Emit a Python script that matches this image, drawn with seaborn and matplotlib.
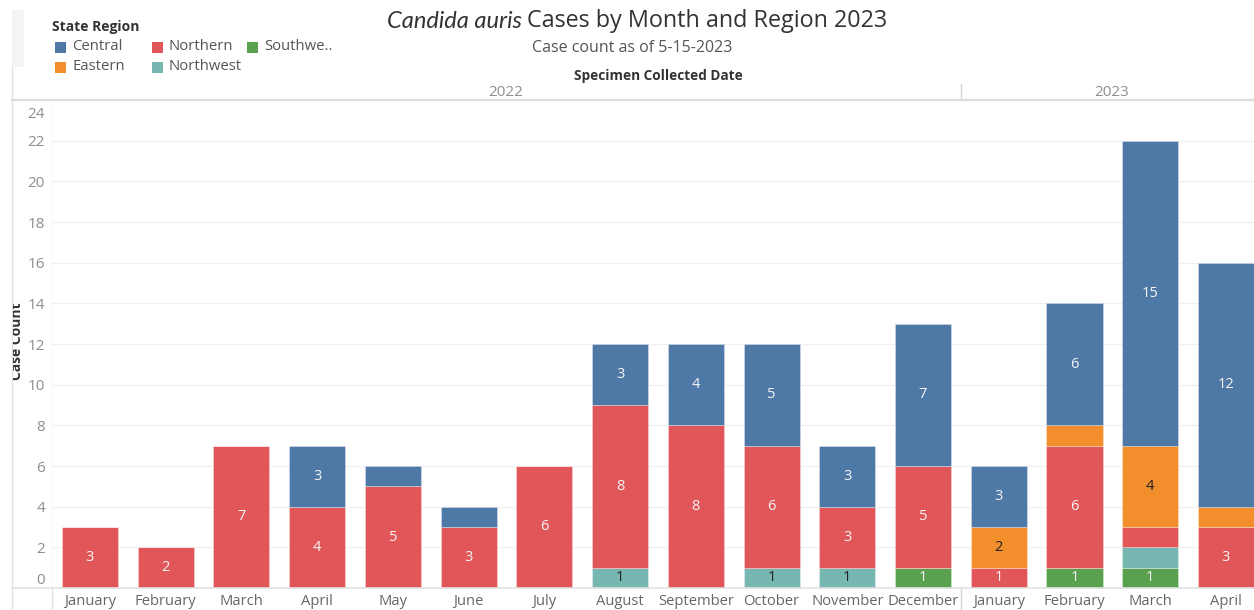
import matplotlib
matplotlib.use("Agg")
from matplotlib import pyplot as plt
from matplotlib.lines import Line2D
from matplotlib.patches import Rectangle
from matplotlib.transforms import Bbox, TransformedBbox, ScaledTranslation
import pandas as pd
import seaborn as sns

# data
months = ["January", "February", "March", "April", "May", "June", "July",
          "August", "September", "October", "November", "December",
          "January", "February", "March", "April"]
years = ["2022", "2023"]
regions = ["Central", "Eastern", "Northern", "Northwest", "Southwest"]
central = [0, 0, 0, 3, 1, 1, 0, 3, 4, 5, 3, 7, 3, 6, 15, 12]
eastern = [0, 0, 0, 0, 0, 0, 0, 0, 0, 0, 0, 0, 2, 1, 4, 1]
northern = [3, 2, 7, 4, 5, 3, 6, 8, 8, 6, 3, 5, 1, 6, 1, 3]
northwest = [0, 0, 0, 0, 0, 0, 0, 1, 0, 1, 1, 0, 0, 0, 1, 0]
southwest = [0, 0, 0, 0, 0, 0, 0, 0, 0, 0, 0, 1, 0, 1, 1, 0]

colors = {"Central": "#4E79A7", "Eastern": "#F28E2B", "Northern": "#E15759",
          "Northwest": "#76B7B2", "Southwest": "#59A14F"}
label_colors = {"Central": "#f4f4f4", "Eastern": "#222222", "Northern": "#f4f4f4",
                "Northwest": "#222222", "Southwest": "#f4f4f4"}

W, H = 1254, 610


def fx(x):
    return x / W


def fy(y):
    return 1 - y / H


counts = dict(zip(regions, [central, eastern, northern, northwest, southwest]))
rows = []
for r in regions:
    for i, v in enumerate(counts[r]):
        if v:
            rows.append({"idx": i, "region": r, "cases": v})
df = pd.DataFrame(rows)

sns.set_theme(style="white")
plt.rcParams["font.family"] = ["Open Sans", "DejaVu Sans"]

fig = plt.figure(figsize=(W / 100, H / 100), dpi=100)
ax = fig.add_axes([fx(52), fy(588), fx(1254) - fx(52), (588 - 100) / H])

# seaborn stacks the last hue level at the bottom
sns.histplot(data=df, x="idx", hue="region", weights="cases",
             hue_order=regions, palette=colors, multiple="stack",
             discrete=True, shrink=0.74, alpha=1, linewidth=0.6,
             edgecolor=(1, 1, 1, 0.35), legend=False, ax=ax)

ax.set_xlim(-0.5, 15.37)
ax.set_ylim(0, 24)
ax.set_xticks(range(len(months)), months)
ax.set_yticks(range(0, 25, 2))
ax.set_xlabel("")
ax.set_ylabel("")
ax.grid(axis="y", color="#f0f0f0", lw=1)
ax.set_axisbelow(True)
for s in ax.spines.values():
    s.set_visible(False)
ax.tick_params(axis="x", length=0, pad=4, labelsize=10.6, labelcolor="#666666")
ax.tick_params(axis="y", length=0, pad=5, labelsize=11, labelcolor="#8e8e8e")

# Tableau pushes the end labels inside the pane
ylabels = ax.get_yticklabels()
ylabels[0].set_transform(ylabels[0].get_transform() + ScaledTranslation(0, 9 / 100, fig.dpi_scale_trans))
ylabels[-1].set_transform(ylabels[-1].get_transform() + ScaledTranslation(0, -12 / 100, fig.dpi_scale_trans))

# segment labels
stack_order = regions[::-1]
for i in range(len(months)):
    bottom = 0
    for r in stack_order:
        v = counts[r][i]
        if v == 0:
            continue
        if v >= 2 or bottom == 0:
            ax.text(i, bottom + v / 2, str(v), ha="center", va="center",
                    fontsize=10.5, color=label_colors[r])
        bottom += v

# frame lines
line_kw = dict(transform=fig.transFigure, lw=1, zorder=0)
fig.add_artist(Line2D([fx(12), fx(1254)], [fy(100), fy(100)], color="#dcdcdc", lw=1.5, transform=fig.transFigure))
fig.add_artist(Line2D([fx(12), fx(1254)], [fy(588), fy(588)], color="#e2e2e2", lw=1.2, transform=fig.transFigure))
fig.add_artist(Line2D([fx(12), fx(12)], [fy(66), fy(610)], color="#e2e2e2", **line_kw))
fig.add_artist(Line2D([fx(52), fx(52)], [fy(100), fy(610)], color="#e2e2e2", **line_kw))
fig.add_artist(Line2D([fx(961), fx(961)], [fy(84), fy(610)], color="#d4d4d4", **line_kw))

# headers
fig.text(fx(522), fy(21), "Candida auris", ha="right", va="center", fontsize=17,
         style="italic", color="#333333", family=["Lato", "DejaVu Sans"])
fig.text(fx(527), fy(21), "Cases by Month and Region 2023", ha="left", va="center",
         fontsize=16.8, color="#333333")
fig.text(fx(632), fy(48), "Case count as of 5-15-2023", ha="center", va="center",
         fontsize=11.5, color="#555555")
fig.text(fx(658), fy(76), "Specimen Collected Date", ha="center", va="center",
         fontsize=9.8, fontweight="bold", color="#333333")
fig.text(fx(506), fy(92), years[0], ha="center", va="center", fontsize=11, color="#8e8e8e")
fig.text(fx(1112), fy(92), years[1], ha="center", va="center", fontsize=11, color="#8e8e8e")

# axis title sits half outside the pane in the reference
yt = fig.text(fx(17.5), fy(341), "Case Count", rotation=90, ha="center", va="center",
              fontsize=10, color="#333333", fontweight="bold")
yt.set_clip_box(TransformedBbox(Bbox([[fx(12.5), 0], [1, 1]]), fig.transFigure))
yt.set_clip_on(True)

# legend
fig.add_artist(Rectangle((fx(12), fy(67)), fx(12), (67 - 10) / H, transform=fig.transFigure,
                         color="#f4f4f4", lw=0))
fig.text(fx(52), fy(27), "State Region", ha="left", va="center", fontsize=10,
         fontweight="bold", color="#333333")
legend_items = [("Central", 55, 47), ("Northern", 152, 47), ("Southwe..", 247, 47),
                ("Eastern", 55, 67), ("Northwest", 152, 67)]
for (name, x, y), r in zip(legend_items, ["Central", "Northern", "Southwest", "Eastern", "Northwest"]):
    fig.add_artist(Rectangle((fx(x), fy(y + 5.5)), fx(11), 11 / H, transform=fig.transFigure,
                             color=colors[r], lw=0))
    fig.text(fx(x + 17), fy(y), name, ha="left", va="center", fontsize=10.7, color="#555555")

fig.savefig("out.png", dpi=100)
